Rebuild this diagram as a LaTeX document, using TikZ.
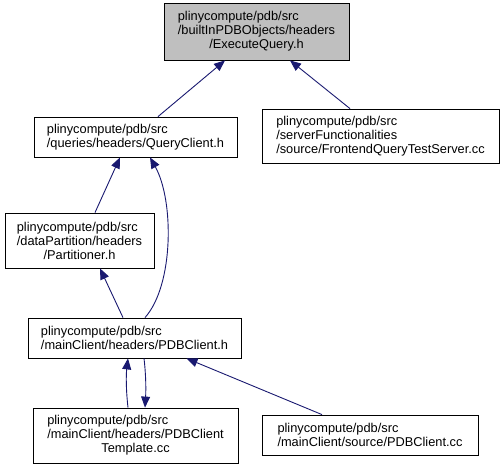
\documentclass[tikz,border=0pt]{standalone}
\usepackage{fontspec}
\setmainfont{Liberation Sans}
\usetikzlibrary{arrows.meta}
\definecolor{edgeblue}{HTML}{191970}
\definecolor{curfill}{HTML}{BFBFBF}

\begin{document}
\begin{tikzpicture}[x=1pt,y=-1pt,file/.style={draw,line width=0.8pt,fill=white,align=left,inner xsep=6pt,inner ysep=2pt,font=\fontsize{12.8}{14}\selectfont},current/.style={file,fill=curfill},dep/.style={draw=edgeblue,line width=0.9pt,-{Triangle[length=11pt,width=9pt]},edgeblue}]
\useasboundingbox (0,0) rectangle (504,469);
\node[current,minimum width=185pt,minimum height=57pt] (eq) at (256.5,31.5) {plinycompute/pdb/src\\/builtInPDBObjects/headers\\\hfill/ExecuteQuery.h\hfill\null};
\node[file,minimum width=203pt,minimum height=40pt] (qc) at (135.5,137) {plinycompute/pdb/src\\/queries/headers/QueryClient.h};
\node[file,minimum width=237pt,minimum height=54pt] (fqts) at (380.5,136) {plinycompute/pdb/src\\/serverFunctionalities\\/source/FrontendQueryTestServer.cc};
\node[file,minimum width=149pt,minimum height=55pt] (part) at (79.5,240.5) {plinycompute/pdb/src\\/dataPartition/headers\\\hfill/Partitioner.h\hfill\null};
\node[file,minimum width=213pt,minimum height=40pt] (pch) at (134.5,338) {plinycompute/pdb/src\\/mainClient/headers/PDBClient.h};
\node[file,minimum width=205pt,minimum height=55pt] (tpl) at (135.5,435.5) {plinycompute/pdb/src\\/mainClient/headers/PDBClient\\\hfill Template.cc\hfill\null};
\node[file,minimum width=216pt,minimum height=40pt] (pcc) at (370,435) {plinycompute/pdb/src\\/mainClient/source/PDBClient.cc};
\draw[dep] ([xshift=22.5pt]qc.north) -- ([xshift=-31.5pt]eq.south);
\draw[dep] ([xshift=-30.5pt]fqts.north) -- ([xshift=33.5pt]eq.south);
\draw[dep] ([xshift=15.5pt]part.north) -- ([xshift=-15.5pt]qc.south);
\draw[dep] ([xshift=10.5pt]pch.north) .. controls (174,285) and (174,200) .. ([xshift=14.5pt]qc.south);
\draw[dep] ([xshift=-11.5pt]pch.north) -- ([xshift=20.5pt]part.south);
\draw[dep] ([xshift=-7.5pt]tpl.north) .. controls (126,390) and (126,375) .. ([xshift=-6.5pt]pch.south);
\draw[dep] ([xshift=9.5pt]pch.south) .. controls (146,375) and (146,390) .. ([xshift=9.5pt]tpl.north);
\draw[dep] ([xshift=-48pt]pcc.north) -- ([xshift=52pt]pch.south);
\end{tikzpicture}
\end{document}
